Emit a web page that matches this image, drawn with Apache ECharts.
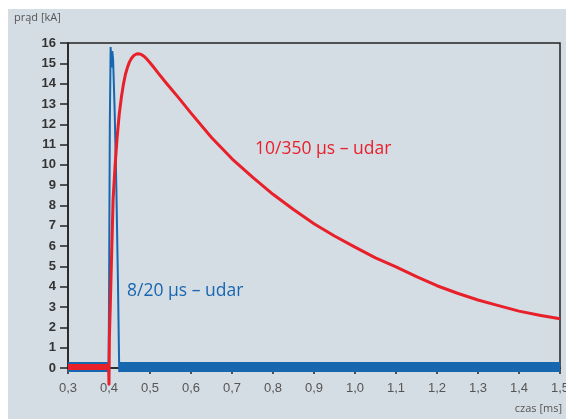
<!DOCTYPE html>
<html><head><meta charset="utf-8">
<script src="https://cdn.jsdelivr.net/npm/echarts@6/dist/echarts.min.js"></script>
<style>html,body{margin:0;padding:0;background:#fff}#c{width:566px;height:419px}</style>
</head><body><div id="c"></div>
<script>
// time [ms] and current [kA]
const redTime    = [0.3, 0.399, 0.4, 0.401, 0.405, 0.41, 0.415, 0.42, 0.425, 0.43, 0.435, 0.44, 0.445, 0.45, 0.455, 0.46, 0.465, 0.47, 0.475, 0.48, 0.485, 0.49, 0.5, 0.51, 0.52, 0.54, 0.57, 0.6, 0.65, 0.7, 0.75, 0.8, 0.85, 0.9, 0.95, 1.0, 1.05, 1.1, 1.15, 1.2, 1.25, 1.3, 1.35, 1.4, 1.45, 1.5];
const redCurrent = [0.05, 0.05, -0.8, 1.5, 4.5, 8.3, 10.0, 11.4, 12.5, 13.3, 13.95, 14.45, 14.8, 15.07, 15.25, 15.37, 15.44, 15.47, 15.46, 15.42, 15.35, 15.26, 15.03, 14.78, 14.52, 14.02, 13.3, 12.55, 11.35, 10.3, 9.4, 8.55, 7.8, 7.1, 6.5, 5.95, 5.42, 4.98, 4.5, 4.05, 3.68, 3.35, 3.07, 2.8, 2.6, 2.42];
const blueTime    = [0.3, 0.399, 0.4, 0.402, 0.404, 0.406, 0.408, 0.41, 0.414, 0.418, 0.422, 0.425, 0.426, 1.5];
const blueCurrent = [0.05, 0.05, 3.0, 12.0, 15.8, 14.8, 15.6, 15.2, 12.5, 8.8, 4.0, -0.2, 0.05, 0.05];
// baseline noise level segments: [tStart, tEnd, level]
const blueNoise = [[0.3, 0.4, 0.05], [0.425, 1.5, 0.05]];
const redNoise  = [[0.3, 0.399, 0.05]];
const xTicks = {min: 0.3, max: 1.5, step: 0.1};
const yTicks = {min: 0, max: 16, step: 1};
const labels = {red: '10/350 µs – udar', blue: '8/20 µs – udar', yName: 'prąd [kA]', xName: 'czas [ms]'};

const RED = '#e8202a', BLUE = '#1766b0';
const zip = (a, b) => a.map((v, i) => [v, b[i]]);
const segs = (arr) => arr.flatMap((s, i) => (i ? [[null, null]] : []).concat([[s[0], s[2]], [s[1], s[2]]]));

const chart = echarts.init(document.getElementById('c'), null, {renderer: 'canvas'});
chart.setOption({
  backgroundColor: '#ffffff',
  animation: false,
  graphic: [
    {type: 'rect', z: -10, shape: {x: 8, y: 9, width: 558, height: 410}, style: {fill: '#d5dde4'}},
    {type: 'text', left: 14, top: 12, style: {text: labels.yName, fill: '#555', font: '11px "Open Sans"'}},
    {type: 'text', right: 4, top: 403, style: {text: labels.xName, fill: '#555', font: '11px "Open Sans"'}},
    {type: 'text', left: 255, top: 140, style: {text: labels.red, fill: RED, font: '17.5px "Open Sans"'}},
    {type: 'text', left: 127, top: 282, style: {text: labels.blue, fill: BLUE, font: '17.5px "Open Sans"'}}
  ],
  grid: {left: 68, top: 43, right: 6, bottom: 51, outerBoundsMode: 'none', containLabel: false,
    show: true, borderColor: '#222', borderWidth: 1.5, backgroundColor: 'transparent'},
  xAxis: {
    type: 'value', min: xTicks.min, max: xTicks.max, interval: xTicks.step,
    axisLine: {lineStyle: {color: '#222', width: 1.5}},
    axisTick: {show: true, length: 6, lineStyle: {color: '#222', width: 1.5}},
    splitLine: {show: false},
    axisLabel: {color: '#555', fontSize: 13, fontFamily: 'Liberation Sans', margin: 14,
      formatter: v => v.toFixed(1).replace('.', ',')}
  },
  yAxis: {
    type: 'value', min: yTicks.min, max: yTicks.max, interval: yTicks.step,
    axisLine: {show: true, lineStyle: {color: '#222', width: 1.5}},
    axisTick: {show: true, length: 8, lineStyle: {color: '#222', width: 1.5}},
    splitLine: {show: false},
    axisLabel: {color: '#333', fontSize: 13, fontWeight: 'bold', fontFamily: 'Liberation Sans', margin: 12}
  },
  series: [
    {type: 'line', data: segs(blueNoise), showSymbol: false, clip: false, connectNulls: false,
      lineStyle: {color: BLUE, width: 10, cap: 'butt'}, z: 2},
    {type: 'line', data: zip(blueTime, blueCurrent), showSymbol: false, clip: false, lineStyle: {color: BLUE, width: 2}, z: 3},
    {type: 'line', data: segs(redNoise), showSymbol: false, clip: false,
      lineStyle: {color: RED, width: 6, cap: 'butt'}, z: 4},
    {type: 'line', data: zip(redTime, redCurrent), showSymbol: false, clip: false,
      lineStyle: {color: RED, width: 3, join: 'round'}, z: 5}
  ]
});
</script></body></html>
